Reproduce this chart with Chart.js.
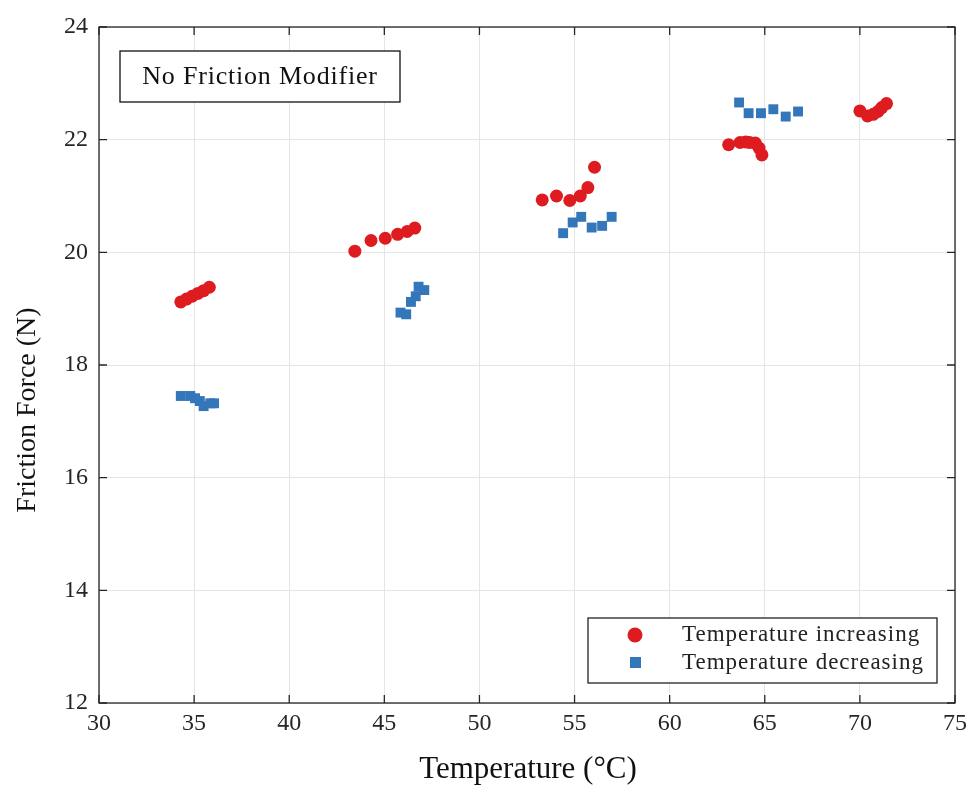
<!DOCTYPE html>
<html>
<head>
<meta charset="utf-8">
<script src="https://cdn.jsdelivr.net/npm/chart.js@4.4.0/dist/chart.umd.min.js"></script>
<style>
  html, body { margin: 0; padding: 0; background: #fff; }
  #wrap { width: 973px; height: 787px; }
</style>
</head>
<body>
<div id="wrap"><canvas id="myChart" width="973" height="787"></canvas></div>
<script>
// temperature increasing (red circles)
var incTemp = [34.3, 34.6, 34.9, 35.2, 35.5, 35.8,
               43.45, 44.3, 45.05, 45.7, 46.2, 46.6,
               53.3, 54.05, 54.75, 55.3, 55.7, 56.05,
               63.1, 63.7, 64.0, 64.2, 64.5, 64.7, 64.85,
               70.0, 70.4, 70.7, 70.95, 71.15, 71.4];
var incForce = [19.12, 19.17, 19.22, 19.27, 19.32, 19.38,
                20.02, 20.21, 20.25, 20.32, 20.37, 20.43,
                20.93, 21.0, 20.92, 21.0, 21.15, 21.51,
                21.91, 21.95, 21.96, 21.95, 21.94, 21.85, 21.73,
                22.51, 22.42, 22.45, 22.5, 22.57, 22.64];

// temperature decreasing (blue squares)
var decTemp = [34.3, 34.8, 35.05, 35.3, 35.5, 35.85, 36.05,
               45.85, 46.15, 46.4, 46.65, 46.8, 47.1,
               54.4, 54.9, 55.35, 55.9, 56.45, 56.95,
               63.65, 64.15, 64.8, 65.45, 66.1, 66.75];
var decForce = [17.45, 17.45, 17.41, 17.36, 17.27, 17.32, 17.32,
                18.93, 18.9, 19.12, 19.22, 19.39, 19.33,
                20.34, 20.53, 20.63, 20.44, 20.47, 20.63,
                22.66, 22.47, 22.47, 22.54, 22.41, 22.5];

var xTicks = [30, 35, 40, 45, 50, 55, 60, 65, 70, 75];
var yTicks = [12, 14, 16, 18, 20, 22, 24];

var seriesNames = ['Temperature increasing', 'Temperature decreasing'];
var boxLabel = 'No Friction Modifier';
var xTitle = 'Temperature (°C)';
var yTitle = 'Friction Force (N)';

var redColor = 'rgb(222,28,32)';
var blueColor = 'rgb(52,118,186)';
var axisColor = '#262626';
var serif = '"Liberation Serif", "DejaVu Serif", serif';

function toPoints(xs, ys) {
    var pts = [];
    for (var i = 0; i < xs.length; i++) {
        pts.push({x: xs[i], y: ys[i]});
    }
    return pts;
}

// box, inward ticks, axis titles, text box and legend like the matlab figure
var framePlugin = {
    id: 'frame',
    afterDraw: function (chart) {
        var ctx = chart.ctx;
        var a = chart.chartArea;
        var xs = chart.scales.x;
        var ys = chart.scales.y;
        ctx.save();
        ctx.strokeStyle = axisColor;
        ctx.lineWidth = 1.3;
        ctx.strokeRect(a.left, a.top, a.right - a.left, a.bottom - a.top);
        var tl = 8;
        ctx.beginPath();
        xTicks.forEach(function (v) {
            var px = xs.getPixelForValue(v);
            ctx.moveTo(px, a.bottom); ctx.lineTo(px, a.bottom - tl);
            ctx.moveTo(px, a.top); ctx.lineTo(px, a.top + tl);
        });
        yTicks.forEach(function (v) {
            var py = ys.getPixelForValue(v);
            ctx.moveTo(a.left, py); ctx.lineTo(a.left + tl, py);
            ctx.moveTo(a.right, py); ctx.lineTo(a.right - tl, py);
        });
        ctx.stroke();

        // axis titles
        ctx.fillStyle = '#111';
        ctx.textAlign = 'center';
        ctx.textBaseline = 'alphabetic';
        ctx.font = '31px ' + serif;
        ctx.fillText(xTitle, (a.left + a.right) / 2 + 1, 778);
        ctx.save();
        ctx.translate(28, 410);
        ctx.rotate(-Math.PI / 2);
        ctx.textBaseline = 'middle';
        ctx.font = '28px ' + serif;
        ctx.fillText(yTitle, 0, 0);
        ctx.restore();

        // text box top left
        ctx.fillStyle = '#fff';
        ctx.fillRect(120, 51, 280, 51);
        ctx.strokeStyle = '#111';
        ctx.lineWidth = 1.3;
        ctx.strokeRect(120, 51, 280, 51);
        ctx.fillStyle = '#111';
        ctx.font = '26px ' + serif;
        ctx.letterSpacing = '0.8px';
        ctx.textAlign = 'center';
        ctx.textBaseline = 'middle';
        ctx.fillText(boxLabel, 260, 77);

        // legend bottom right
        var lx = 588, ly = 618, lw = 349, lh = 65;
        ctx.fillStyle = '#fff';
        ctx.fillRect(lx, ly, lw, lh);
        ctx.strokeStyle = '#222';
        ctx.strokeRect(lx, ly, lw, lh);
        ctx.fillStyle = redColor;
        ctx.beginPath();
        ctx.arc(635, 635, 7.5, 0, Math.PI * 2);
        ctx.fill();
        ctx.fillStyle = blueColor;
        ctx.fillRect(630, 657, 11, 11);
        ctx.fillStyle = '#222';
        ctx.font = '23px ' + serif;
        ctx.letterSpacing = '1px';
        ctx.textAlign = 'left';
        ctx.fillText(seriesNames[0], 682, 635);
        ctx.fillText(seriesNames[1], 682, 663);
        ctx.letterSpacing = '0px';
        ctx.restore();
    }
};

var ctx = document.getElementById('myChart').getContext('2d');
var myChart = new Chart(ctx, {
    type: 'scatter',
    data: {
        datasets: [{
            label: seriesNames[0],
            data: toPoints(incTemp, incForce),
            pointStyle: 'circle',
            pointRadius: 6.5,
            backgroundColor: redColor,
            borderColor: redColor,
            borderWidth: 0
        }, {
            label: seriesNames[1],
            data: toPoints(decTemp, decForce),
            pointStyle: 'rect',
            pointRadius: 7,
            backgroundColor: blueColor,
            borderColor: blueColor,
            borderWidth: 0
        }]
    },
    options: {
        responsive: false,
        animation: false,
        layout: {padding: {top: 27, right: 17, left: 0, bottom: 0}},
        plugins: {
            legend: {display: false},
            tooltip: {enabled: false}
        },
        scales: {
            x: {
                type: 'linear',
                min: 30,
                max: 75,
                afterBuildTicks: function (s) {
                    s.ticks = xTicks.map(function (v) { return {value: v}; });
                },
                afterFit: function (s) { s.height = 84; },
                grid: {color: '#e5e5e5', drawTicks: false},
                border: {display: false},
                ticks: {
                    color: axisColor,
                    padding: 6,
                    font: {family: serif, size: 24}
                }
            },
            y: {
                type: 'linear',
                min: 12,
                max: 24,
                afterBuildTicks: function (s) {
                    s.ticks = yTicks.map(function (v) { return {value: v}; });
                },
                afterFit: function (s) { s.width = 99; },
                grid: {color: '#e5e5e5', drawTicks: false},
                border: {display: false},
                ticks: {
                    color: axisColor,
                    padding: 11,
                    font: {family: serif, size: 24}
                }
            }
        }
    },
    plugins: [framePlugin]
});
</script>
</body>
</html>
